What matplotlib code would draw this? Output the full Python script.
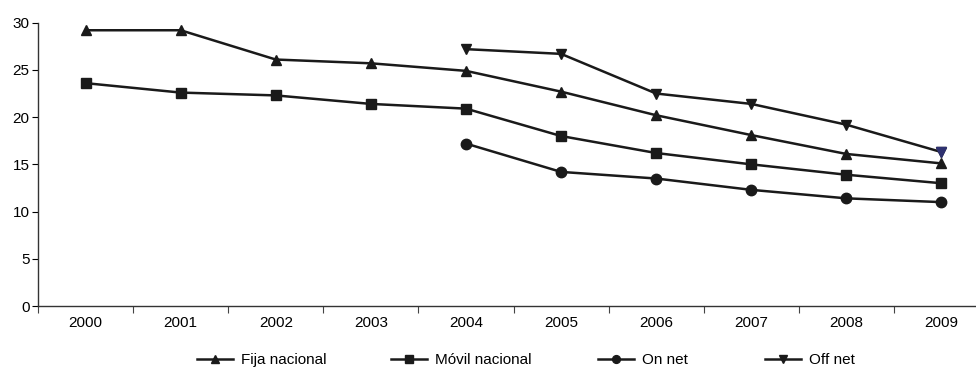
import matplotlib
matplotlib.use("Agg")
import matplotlib.pyplot as plt
import numpy as np

plt.rcParams['font.family'] = ['Liberation Sans', 'DejaVu Sans']

years = ["2000", "2001", "2002", "2003", "2004", "2005", "2006", "2007", "2008", "2009"]
fija = [29.2, 29.2, 26.1, 25.7, 24.9, 22.7, 20.2, 18.1, 16.1, 15.1]
movil = [23.6, 22.6, 22.3, 21.4, 20.9, 18.0, 16.2, 15.0, 13.9, 13.0]
on_net = [None, None, None, None, 17.2, 14.2, 13.5, 12.3, 11.4, 11.0]
off_net = [None, None, None, None, 27.2, 26.7, 22.5, 21.4, 19.2, 16.3]

series = [
    ("Fija nacional", fija, "^"),
    ("Móvil nacional", movil, "s"),
    ("On net", on_net, "o"),
    ("Off net", off_net, "v"),
]
legend_x = [197, 391, 598, 765]

fig = plt.figure(figsize=(9.76, 3.72), dpi=100)
ax = fig.add_axes([38/976, 66/372, 951/976, 283.3/372])

x = np.arange(len(years))
col = "#1a1a1a"
handles = []
for name, vals, m in series:
    xs = [xi for xi, v in zip(x, vals) if v is not None]
    ys = [v for v in vals if v is not None]
    h, = ax.plot(xs, ys, color=col, lw=1.8, marker=m, markersize=7.5, label=name)
    handles.append(h)

# last Off net marker appears in navy
xs_off = [xi for xi, v in zip(x, off_net) if v is not None]
ys_off = [v for v in off_net if v is not None]
ax.plot(xs_off[-1:], ys_off[-1:], linestyle="none", marker="v", markersize=7.5,
        color="#2e3170", zorder=4)

ax.set_xlim(-0.5, len(years) - 0.5)
ax.set_ylim(0, 30)
ax.set_yticks(range(0, 31, 5))
ax.set_xticks(x)
ax.set_xticklabels(years)
ax.set_xticks(np.arange(-0.5, len(years), 1), minor=True)
ax.tick_params(axis='x', which='major', length=0, pad=7, labelsize=11)
ax.tick_params(axis='x', which='minor', length=5, width=0.8, color="#444444")
ax.tick_params(axis='y', length=4, width=0.8, labelsize=11, pad=2)
for s in ("top", "right"):
    ax.spines[s].set_visible(False)
for s in ("left", "bottom"):
    ax.spines[s].set_linewidth(1.0)
    ax.spines[s].set_color("#333333")

for h, lx in zip(handles, legend_x):
    fig.legend([h], [h.get_label()], loc="center left",
               bbox_to_anchor=(lx/976, 12/372), frameon=False, fontsize=11,
               handlelength=2.35, handletextpad=0.5, borderpad=0, borderaxespad=0,
               markerscale=0.75)

fig.savefig("out.png", dpi=100)
